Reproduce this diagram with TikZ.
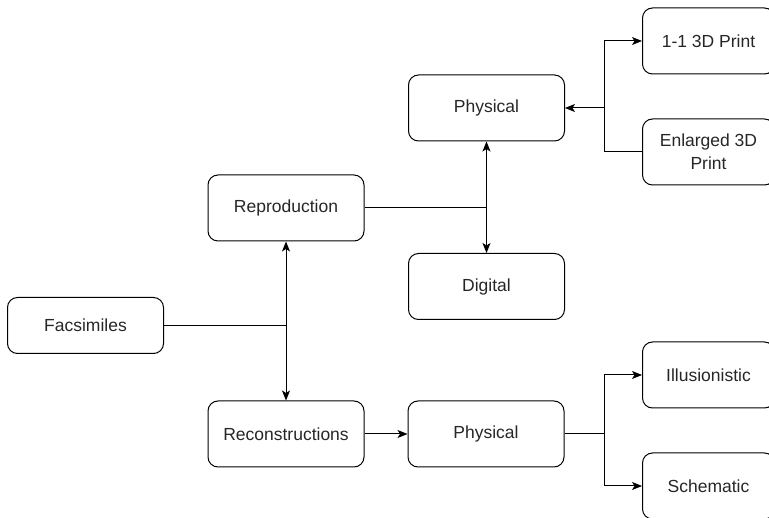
\documentclass[tikz,border=0pt]{standalone}
\usepackage{fontspec}
\setmainfont{Liberation Sans}
\usetikzlibrary{arrows.meta}
\begin{document}
\begin{tikzpicture}[x=1pt,y=-1pt,
  box/.style={draw, line width=1pt, rounded corners=10pt, inner sep=0pt, align=center,
    font=\fontsize{17.5}{23}\selectfont, text=black!85},
  wbox/.style={box, minimum width=156pt, minimum height=66pt},
  rbox/.style={box, minimum width=132pt, minimum height=66pt},
  conn/.style={line width=1pt},
  arr/.style={conn, -{Stealth[length=10pt,width=8pt,inset=2.5pt]}},
  darr/.style={conn, {Stealth[length=10pt,width=8pt,inset=2.5pt]}-{Stealth[length=10pt,width=8pt,inset=2.5pt]}}
]
\useasboundingbox (0,0) rectangle (769,518);
\clip (0,0) rectangle (769,518);
\node[wbox, minimum height=56pt] (fac) at (85.5,325.5) {Facsimiles};
\node[wbox] (rep) at (286,208) {Reproduction};
\node[wbox] (rec) at (286,434) {Reconstructions};
\node[wbox] (phy1) at (486.5,108) {Physical};
\node[wbox] (dig) at (486.5,286.5) {Digital};
\node[wbox] (phy2) at (486,434) {Physical};
\node[rbox, anchor=west] (p11) at (642,41) {1-1 3D Print};
\node[rbox, anchor=west] (enl) at (642,152) {Enlarged 3D\\Print};
\node[rbox, anchor=west] (ill) at (642,375) {Illusionistic};
\node[rbox, anchor=west] (sch) at (642,486) {Schematic};
\coordinate (j1) at (rep.south |- fac.east);
\coordinate (j2) at (phy1.south |- rep.east);
\coordinate (j3) at (604,108);
\coordinate (j4) at (604,434);
\draw[conn] (fac.east) -- (j1);
\draw[darr] (rep.south) -- (rec.north);
\draw[conn] (rep.east) -- (j2);
\draw[darr] (phy1.south) -- (dig.north);
\draw[arr] (j3) -- (phy1.east);
\draw[arr] (j3) |- (p11.west);
\draw[conn] (j3) |- (enl.west);
\draw[arr] (rec.east) -- (phy2.west);
\draw[conn] (phy2.east) -- (j4);
\draw[arr] (j4) |- (ill.west);
\draw[arr] (j4) |- (sch.west);
\end{tikzpicture}
\end{document}
